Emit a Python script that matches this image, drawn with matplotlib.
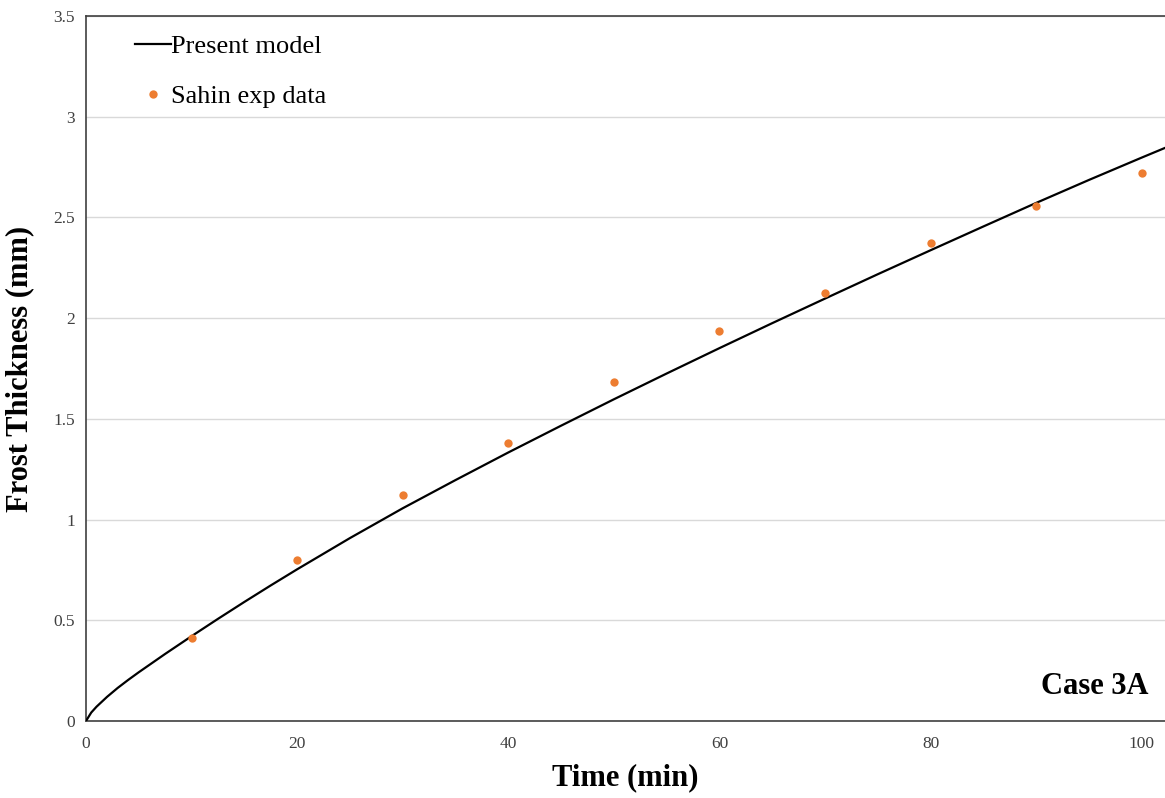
import numpy as np
import matplotlib as mpl
mpl.use('Agg')
from matplotlib import pyplot as plt

# ---------------------------------------------------------------------------
# Frost thickness vs time, Case 3A: model curve against Sahin's measurements
# ---------------------------------------------------------------------------

# model curve (min, mm)
modelTime = [0, 0.5, 1, 2, 3, 4, 5, 7.5, 10, 12.5, 15, 17.5, 20, 25, 30, 35,
             40, 45, 50, 55, 60, 65, 70, 75, 80, 85, 90, 95, 100, 102.2]
modelThick = [0, 0.042, 0.071, 0.120, 0.164, 0.204, 0.242, 0.333, 0.421,
              0.507, 0.591, 0.673, 0.753, 0.908, 1.056, 1.196, 1.333, 1.466,
              1.597, 1.725, 1.851, 1.975, 2.097, 2.218, 2.337, 2.455, 2.572,
              2.686, 2.797, 2.845]

# experimental data (min, mm)
expTime = [10, 20, 30, 40, 50, 60, 70, 80, 90, 100]
expThick = [0.41, 0.80, 1.12, 1.38, 1.685, 1.935, 2.125, 2.375, 2.555, 2.72]

plt.rcParams['font.family'] = ['Liberation Serif', 'DejaVu Serif']

fig = plt.figure(figsize=(11.65, 7.98), dpi=100)
ax = fig.add_axes([0.0738, 0.0965, 0.9262, 0.8835])

ax.plot(modelTime, modelThick, '-', color='black', lw=1.6, label='Present model', zorder=3)
ax.plot(expTime, expThick, 'o', color='#ED7D31', ms=6, mec='none', label='Sahin exp data', zorder=4)

ax.set_xlim(0, 102.2)
ax.set_ylim(0, 3.5)
ax.set_xticks(np.arange(0, 101, 20))
ax.set_yticks(np.arange(0, 3.51, 0.5))
ax.set_yticklabels(['0', '0.5', '1', '1.5', '2', '2.5', '3', '3.5'])
ax.tick_params(length=0, labelsize=12.5, colors='#404040', pad=8)
ax.tick_params(axis='x', pad=11)

ax.grid(axis='y', color='#D9D9D9', lw=1)
ax.set_axisbelow(True)
for side in ['left', 'bottom', 'top']:
    ax.spines[side].set_color('#404040')
    ax.spines[side].set_linewidth(1.2)
ax.spines['right'].set_visible(False)

ax.set_xlabel('Time (min)', fontsize=22, fontweight='bold', labelpad=8)
ax.set_ylabel('Frost Thickness (mm)', fontsize=22, fontweight='bold', labelpad=14)

ax.text(0.985, 0.028, 'Case 3A', transform=ax.transAxes, ha='right', va='bottom',
        fontsize=22, fontweight='bold')

legend = ax.legend(loc='upper left', bbox_to_anchor=(0.028, 1.0), frameon=False,
                   fontsize=19, handlelength=1.36, handletextpad=0.0,
                   labelspacing=1.0, borderaxespad=0.3)

plt.savefig('out.png', dpi=100, facecolor='w')
